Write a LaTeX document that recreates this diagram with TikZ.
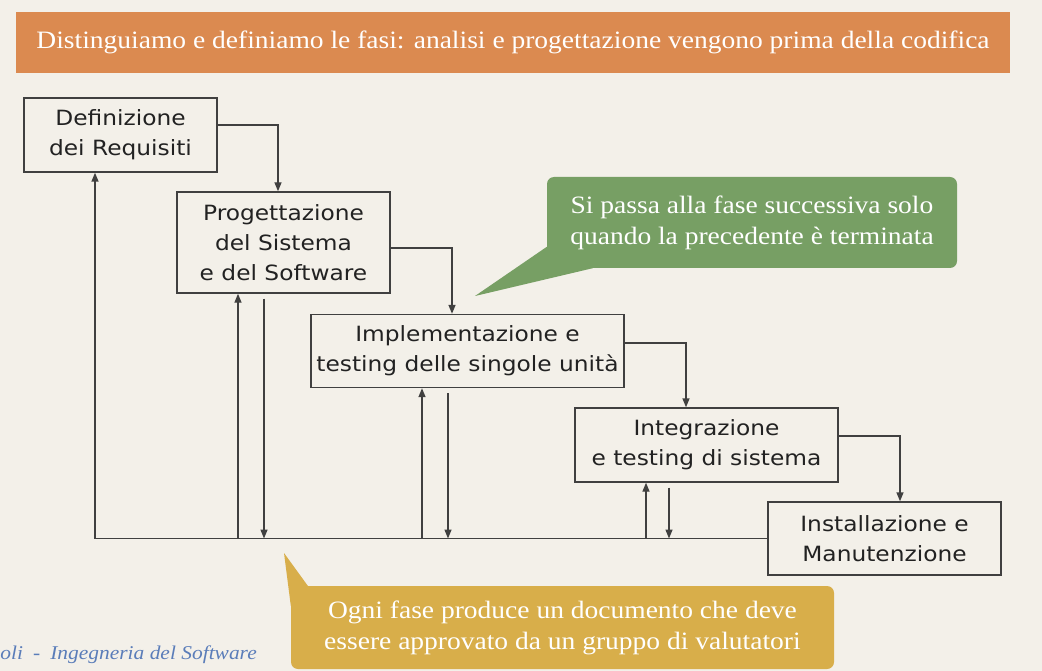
\documentclass[tikz,border=0pt]{standalone}
\usepackage{fontspec}
\setmainfont[FakeStretch=1.1]{Liberation Serif}
\newfontfamily\boxfont[FakeStretch=1.11]{DejaVu Sans}
\usetikzlibrary{arrows.meta,calc}
\definecolor{bgc}{HTML}{F3F0E9}
\definecolor{bannerc}{HTML}{DB8A50}
\definecolor{greenc}{HTML}{779F64}
\definecolor{yellowc}{HTML}{D8AE4A}
\definecolor{linec}{HTML}{404040}
\definecolor{textc}{HTML}{222222}
\definecolor{footc}{HTML}{5A7DB9}
\begin{document}
\begin{tikzpicture}[x=1pt,y=-1pt,
  phase/.style={draw=linec, line width=1.4pt, align=center, inner sep=0pt,
    font=\boxfont\fontsize{21}{30}\selectfont, text=textc},
  arr/.style={draw=linec, line width=1.4pt, -{Triangle[length=9pt,width=7pt]}},
  callout/.style={align=center, text=white, inner sep=0pt, rounded corners=7pt,
    font=\fontsize{25}{31}\selectfont}]
\useasboundingbox (0,0) rectangle (1042,671);
\fill[bgc] (0,0) rectangle (1042,671);

% banner
\node[fill=bannerc, minimum width=994pt, minimum height=61pt, inner sep=0pt,
  text=white, font=\fontsize{25}{28}\selectfont] (banner) at (513,42.5)
  {Distinguiamo e definiamo le fasi: analisi e progettazione vengono prima della codifica};

% phases
\node[phase, minimum width=193pt, minimum height=74pt] (b1) at (120.5,135) {Definizione\\dei Requisiti};
\node[phase, minimum width=213pt, minimum height=101pt] (b2) at (283.5,242.5) {Progettazione\\del Sistema\\e del Software};
\node[phase, minimum width=313pt, minimum height=73pt] (b3) at (467.5,351) {Implementazione e\\testing delle singole unità};
\node[phase, minimum width=263pt, minimum height=74pt] (b4) at (706.5,445) {Integrazione\\e testing di sistema};
\node[phase, minimum width=233pt, minimum height=73pt] (b5) at (884.5,538.5) {Installazione e\\Manutenzione};

% forward connectors
\draw[arr] ([yshift=10pt]b1.east) -| ([xshift=-5.5pt]b2.north);
\draw[arr] ([yshift=-5.5pt]b2.east) -| ([xshift=-15.5pt]b3.north);
\draw[arr] ([yshift=8pt]b3.east) -| ([xshift=-20.5pt]b4.north);
\draw[arr] ([yshift=9pt]b4.east) -| ([xshift=15.5pt]b5.north);

% feedback line
\draw[arr] (b5.west) -| ([xshift=-25.5pt]b1.south);
\draw[arr] ([xshift=-45.5pt]b2.south |- b5.west) -- ([xshift=-45.5pt]b2.south);
\draw[arr] ([xshift=-19.5pt,yshift=-5pt]b2.south) -- ([xshift=-19.5pt]b2.south |- b5.west);
\draw[arr] ([xshift=-45.5pt]b3.south |- b5.west) -- ([xshift=-45.5pt]b3.south);
\draw[arr] ([xshift=-19.5pt,yshift=-5pt]b3.south) -- ([xshift=-19.5pt]b3.south |- b5.west);
\draw[arr] ([xshift=-60.5pt]b4.south |- b5.west) -- ([xshift=-60.5pt]b4.south);
\draw[arr] ([xshift=-37.5pt,yshift=-5pt]b4.south) -- ([xshift=-37.5pt]b4.south |- b5.west);

% green callout
\coordinate (tip1) at (475,296);
\node[callout, fill=greenc, minimum width=410pt, minimum height=91pt] (note1) at (752,222.5)
  {Si passa alla fase successiva solo\\quando la precedente è terminata};
\fill[greenc] ($(note1.north west)+(0,70)$) -- (tip1) -- ($(note1.south west)+(46,0)$)
  -- ($(note1.south west)+(0,-10)$) -- cycle;

% yellow callout
\coordinate (tip2) at (284,553);
\node[callout, fill=yellowc, minimum width=543pt, minimum height=83pt] (note2) at (562.5,627.5)
  {Ogni fase produce un documento che deve\\essere approvato da un gruppo di valutatori};
\fill[yellowc] (tip2) -- ($(note2.north west)+(17,0)$) -- ($(note2.north west)+(10,0)$)
  -- ($(note2.north west)+(0,20)$) -- cycle;

% footer
\node[anchor=base east, inner sep=0pt, text=footc, font=\itshape\fontsize{19.5}{22}\selectfont] (foot) at (257,659)
  {oli\hspace{10pt}-\hspace{10pt}Ingegneria del Software};
\end{tikzpicture}
\end{document}
